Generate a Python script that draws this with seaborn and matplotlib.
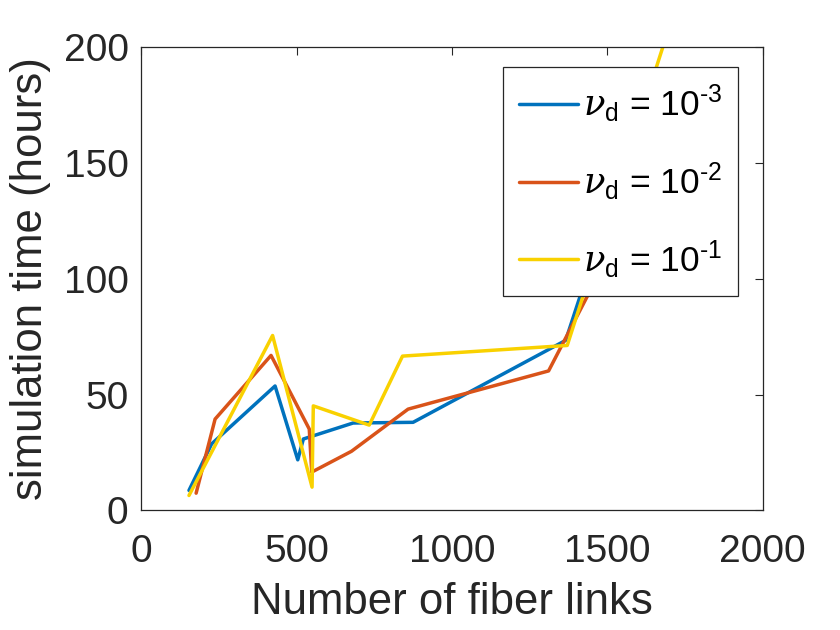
import numpy as np
import pandas as pd
import matplotlib
matplotlib.use('Agg')
import matplotlib.pyplot as plt
import seaborn as sns

# values
blue_x = [154, 227, 431, 504, 522, 682, 875, 1366, 1560]
blue_y = [8.6, 28.7, 53.7, 21.8, 30.8, 37.7, 38.0, 73.4, 153]
orange_x = [177, 238, 418, 541, 549, 677, 859, 1311, 1600]
orange_y = [7.4, 39.4, 66.9, 35.1, 16.5, 25.5, 43.7, 60.2, 135]
yellow_x = [154, 423, 550, 554, 734, 841, 1371, 1750]
yellow_y = [6.4, 75.5, 10.0, 45.1, 36.8, 66.6, 71.2, 230]

labels = [r'$\nu_{\mathrm{d}}$ = 10$^{\text{-3}}$',
          r'$\nu_{\mathrm{d}}$ = 10$^{\text{-2}}$',
          r'$\nu_{\mathrm{d}}$ = 10$^{\text{-1}}$']
colors = ['#0072BD', '#D95319', '#F9D100']

df = pd.concat([
    pd.DataFrame({'x': blue_x, 'y': blue_y, 'run': labels[0]}),
    pd.DataFrame({'x': orange_x, 'y': orange_y, 'run': labels[1]}),
    pd.DataFrame({'x': yellow_x, 'y': yellow_y, 'run': labels[2]}),
], ignore_index=True)

sns.set_style('white')
plt.rcParams['font.family'] = ['Liberation Sans', 'DejaVu Sans']
plt.rcParams['mathtext.fontset'] = 'custom'
plt.rcParams['mathtext.rm'] = 'Liberation Sans'
plt.rcParams['mathtext.it'] = 'DejaVu Serif:italic'

fig = plt.figure(figsize=(8.4, 6.3), dpi=100)
ax = fig.add_axes([0.168, 0.19, 0.740, 0.735])

sns.lineplot(data=df, x='x', y='y', hue='run', hue_order=labels,
             palette=colors, sort=False, estimator=None, lw=2.5, ax=ax)

ax.set_xlim(0, 2000)
ax.set_ylim(0, 200)
ax.set_xticks([0, 500, 1000, 1500, 2000])
ax.set_yticks([0, 50, 100, 150, 200])
ax.tick_params(direction='in', length=6, width=0.8, top=True, right=True,
               labelsize=28, colors='#262626')
ax.tick_params(axis='x', pad=17)
ax.tick_params(axis='y', pad=9)
for s in ax.spines.values():
    s.set_color('#262626')
    s.set_linewidth(0.9)
ax.set_xlabel('Number of fiber links', fontsize=31.5, color='#262626', labelpad=9)
ax.set_ylabel('simulation time (hours)', fontsize=31.5, color='#262626', labelpad=9)

leg = ax.legend(loc='upper right', bbox_to_anchor=(0.961, 0.957), fontsize=25.5,
                frameon=True, fancybox=False, edgecolor='#262626', framealpha=1,
                handlelength=1.67, labelspacing=1.0, borderpad=0.45,
                handletextpad=0.15, borderaxespad=0)
leg.get_frame().set_linewidth(0.9)
for t in leg.get_texts():
    t.set_color('black')

fig.savefig('out.png', dpi=100)
